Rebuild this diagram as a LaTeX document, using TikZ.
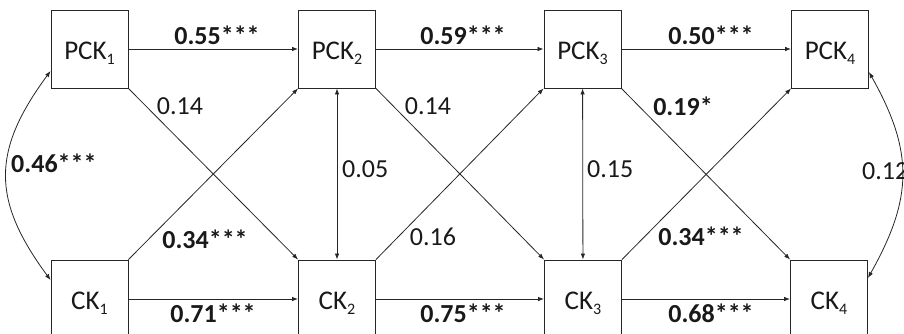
\documentclass[tikz,border=0pt]{standalone}
\usepackage{fontspec}
\setmainfont{Carlito}
\usetikzlibrary{arrows.meta,calc}
% lowered index after a variable name
\newcommand{\lowidx}[1]{\raisebox{-5pt}{\fontsize{16}{16}\selectfont #1}}
\definecolor{linecol}{gray}{0.15}
\definecolor{textcol}{gray}{0.1}
\begin{document}
\begin{tikzpicture}[x=1pt,y=-1pt,
  var/.style={draw=linecol, line width=0.9pt, minimum width=77pt, minimum height=78pt,
    inner sep=0pt, text=textcol, font=\fontsize{27}{27}\selectfont,
    text height=21pt, text depth=0pt},
  path/.style={draw=linecol, line width=0.8pt, -{Latex[length=6pt,width=4.5pt]}},
  both/.style={draw=linecol, line width=0.8pt, {Latex[length=6pt,width=4.5pt]}-{Latex[length=6pt,width=4.5pt]}},
  coef/.style={inner sep=0pt, text=textcol, font=\fontsize{26}{26}\selectfont},
  sig/.style={coef, font=\fontsize{26}{26}\selectfont\bfseries}]
\useasboundingbox (0,0) rectangle (904,334);

% measured variables, two waves per row
\node[var] (pck1) at (89.5,49) {PCK\lowidx{1}};
\node[var] (pck2) at (337,49)  {PCK\lowidx{2}};
\node[var] (pck3) at (582.5,49) {PCK\lowidx{3}};
\node[var] (pck4) at (830,49)  {PCK\lowidx{4}};
\node[var] (ck1) at (89.5,299) {CK\lowidx{1}};
\node[var] (ck2) at (337,299)  {CK\lowidx{2}};
\node[var] (ck3) at (583,299)  {CK\lowidx{3}};
\node[var] (ck4) at (829,299)  {CK\lowidx{4}};

% autoregressive paths
\draw[path] (pck1) -- (pck2);
\draw[path] (pck2) -- (pck3);
\draw[path] (pck3) -- (pck4);
\draw[path] (ck1) -- (ck2);
\draw[path] (ck2) -- (ck3);
\draw[path] (ck3) -- (ck4);

% cross-lagged paths
\draw[path] (pck1.south east) -- (ck2.north west);
\draw[path] (ck1.north east) -- (pck2.south west);
\draw[path] (pck2.south east) -- (ck3.north west);
\draw[path] (ck2.north east) -- (pck3.south west);
\draw[path] (pck3.south east) -- (ck4.north west);
\draw[path] (ck3.north east) -- (pck4.south west);

% within-wave correlations
\draw[both] (pck2) -- (ck2);
\draw[both] (pck3) -- (ck3);
\draw[both] ($(pck1.west)+(0,22)$) .. controls +(-59,80) and +(-59,-80) .. ($(ck1.west)+(0,-19)$);
\draw[both] ($(pck4.east)+(0,23)$) .. controls +(45,80) and +(45,-80) .. ($(ck4.east)+(0,-21)$);

% coefficients
\node[sig, anchor=base] (c1) at (217,45) {0.55***};
\node[sig, anchor=base] (c2) at (463,45) {0.59***};
\node[sig, anchor=base] (c3) at (711,45) {0.50***};
\node[sig, anchor=base] (c4) at (213,322) {0.71***};
\node[sig, anchor=base] (c5) at (463,322) {0.75***};
\node[sig, anchor=base] (c6) at (711,322) {0.68***};
\node[coef, anchor=base] (c7) at (180,115) {0.14};
\node[coef, anchor=base] (c8) at (428,115) {0.14};
\node[sig, anchor=base] (c9) at (683,116) {0.19*};
\node[sig, anchor=base] (c10) at (205,248) {0.34***};
\node[coef, anchor=base] (c11) at (433,245) {0.16};
\node[sig, anchor=base] (c12) at (701,245) {0.34***};
\node[sig, anchor=base west] (c13) at (11,172) {0.46***};
\node[coef, anchor=base west] (c14) at (342,177) {0.05};
\node[coef, anchor=base west] (c15) at (587,177) {0.15};
\node[coef, anchor=base west] (c16) at (862,179) {0.12};
\end{tikzpicture}
\end{document}
